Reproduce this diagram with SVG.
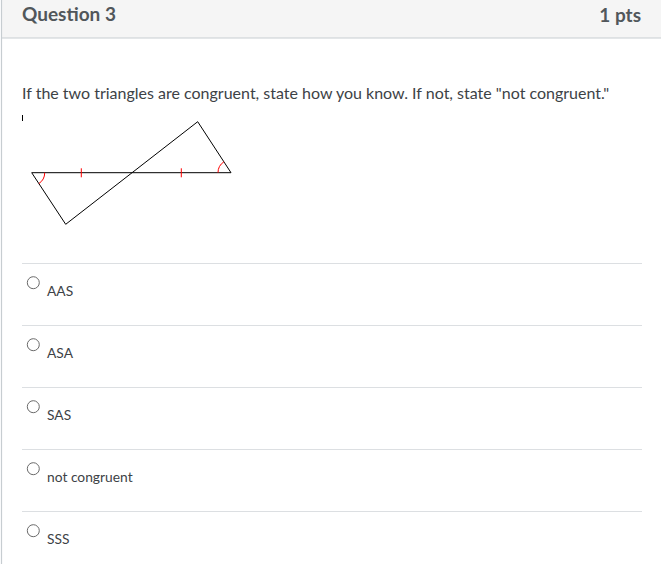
<svg xmlns="http://www.w3.org/2000/svg" width="661" height="564" viewBox="0 0 661 564">
<style>
.t{font-family:Lato,"Liberation Sans",sans-serif;fill:#3d4246}
.h{font-size:19px;font-weight:bold;fill:#51575b}
.q{font-size:16px}
.o{font-size:13.8px}
.sep{stroke:#dcdfe2;stroke-width:1}
.rad{fill:#fff;stroke:#6b6b6b;stroke-width:1}
.ln{stroke:#000;stroke-width:1;fill:none}
.red{stroke:#f00;stroke-width:1;fill:none}
</style>
<rect x="0" y="0" width="661" height="564" fill="#fff"/>
<rect x="1.5" y="0" width="661" height="38" fill="#f5f5f5"/>
<line x1="1.5" y1="0" x2="1.5" y2="564" stroke="#c7cdd1" stroke-width="1.2"/>
<line x1="1.5" y1="38" x2="661" y2="38" stroke="#c7cdd1" stroke-width="1.2"/>
<g id="header">
<text class="t h" x="22" y="20.5">Question 3</text>
<text class="t h" x="641" y="22" text-anchor="end">1 pts</text>
</g>
<g id="question">
<text class="t q" x="22" y="99">If the two triangles are congruent, state how you know. If not, state "not congruent."</text>
</g>
<g id="figure">
<line class="ln" x1="22.5" y1="115" x2="22.5" y2="121" stroke-width="1.2"/>
<polyline class="ln" points="197.7,121.7 231,172.7 31.7,172.7 65.7,224.3 197.7,121.7"/>
<line class="red" x1="81.3" y1="168.3" x2="81.3" y2="177.3"/>
<line class="red" x1="181.3" y1="168.3" x2="181.3" y2="177.3"/>
<path class="red" d="M44.7,172.7 A13,13 0 0 1 38.8,183.6"/>
<path class="red" d="M218,172.7 A13,13 0 0 1 223.9,161.8"/>
</g>
<g id="options">
<line class="sep" x1="22" y1="263.5" x2="642" y2="263.5"/>
<line class="sep" x1="22" y1="325.5" x2="642" y2="325.5"/>
<line class="sep" x1="22" y1="387.5" x2="642" y2="387.5"/>
<line class="sep" x1="22" y1="449.5" x2="642" y2="449.5"/>
<line class="sep" x1="22" y1="511.5" x2="642" y2="511.5"/>
<g id="opt-aas"><circle class="rad" cx="33.3" cy="282.7" r="6"/><text class="t o" x="47" y="296">AAS</text></g>
<g id="opt-asa"><circle class="rad" cx="33.3" cy="344.7" r="6"/><text class="t o" x="47" y="358">ASA</text></g>
<g id="opt-sas"><circle class="rad" cx="33.3" cy="406.7" r="6"/><text class="t o" x="47" y="420">SAS</text></g>
<g id="opt-nc"><circle class="rad" cx="33.3" cy="468.7" r="6"/><text class="t o" x="47" y="482">not congruent</text></g>
<g id="opt-sss"><circle class="rad" cx="33.3" cy="530.7" r="6"/><text class="t o" x="47" y="544">SSS</text></g>
</g>
</svg>
